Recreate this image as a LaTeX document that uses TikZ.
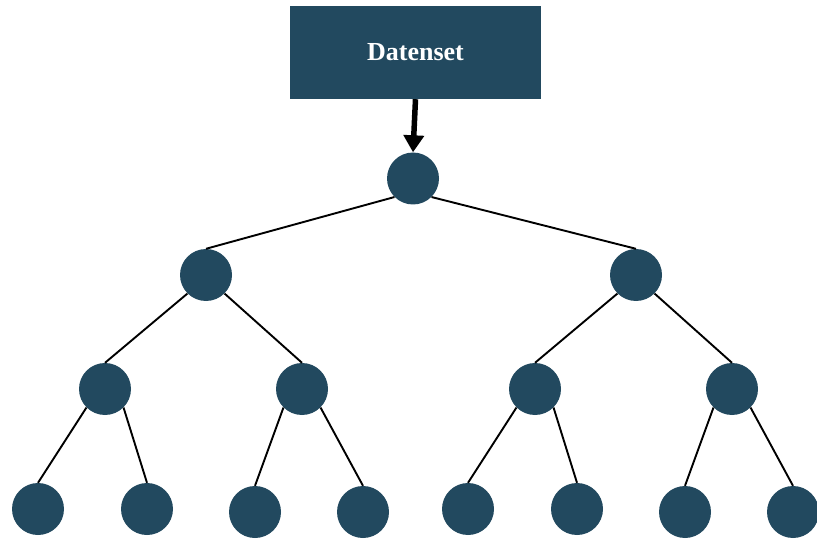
\documentclass[tikz,border=0pt]{standalone}
\usepackage{fontspec}
\setmainfont{Liberation Serif}
\usetikzlibrary{arrows.meta}
\definecolor{nodeblue}{HTML}{22495F}
\tikzset{
  leaf/.style={circle, fill=nodeblue, draw=none, minimum size=52pt, inner sep=0pt},
  edge/.style={draw=black, line width=1.9pt},
  databox/.style={rectangle, fill=nodeblue, draw=none, minimum width=251pt, minimum height=93pt,
    text=white, font=\fontsize{26}{30}\selectfont\bfseries},
  feed/.style={line width=5.5pt, -{Triangle[length=17pt,width=20pt]}}
}
\begin{document}
\begin{tikzpicture}[x=1pt,y=-1pt]
\useasboundingbox (0,0) rectangle (817,540);

% data source
\node[databox] (data) at (415.5,52.5) {Datenset};

% tree nodes
\node[leaf] (r)   at (413,178.5) {};
\node[leaf] (a)   at (206,275) {};
\node[leaf] (b)   at (636,275) {};
\node[leaf] (aa)  at (105,389) {};
\node[leaf] (ab)  at (302,389) {};
\node[leaf] (ba)  at (535,389) {};
\node[leaf] (bb)  at (732,389) {};
\node[leaf] (aaa) at (38,509) {};
\node[leaf] (aab) at (147,509) {};
\node[leaf] (aba) at (255,512) {};
\node[leaf] (abb) at (363,512) {};
\node[leaf] (baa) at (468,509) {};
\node[leaf] (bab) at (577,509) {};
\node[leaf] (bba) at (685,512) {};
\node[leaf] (bbb) at (793,512) {};

% feed arrow
\draw[feed] (data.south) -- (r.north);

% branches: parent's lower side to child's top
\foreach \p/\l/\rr in {r/a/b, a/aa/ab, b/ba/bb, aa/aaa/aab, ab/aba/abb, ba/baa/bab, bb/bba/bbb}{
  \draw[edge] (\p.south west) -- (\l.north);
  \draw[edge] (\p.south east) -- (\rr.north);
}
\end{tikzpicture}
\end{document}
